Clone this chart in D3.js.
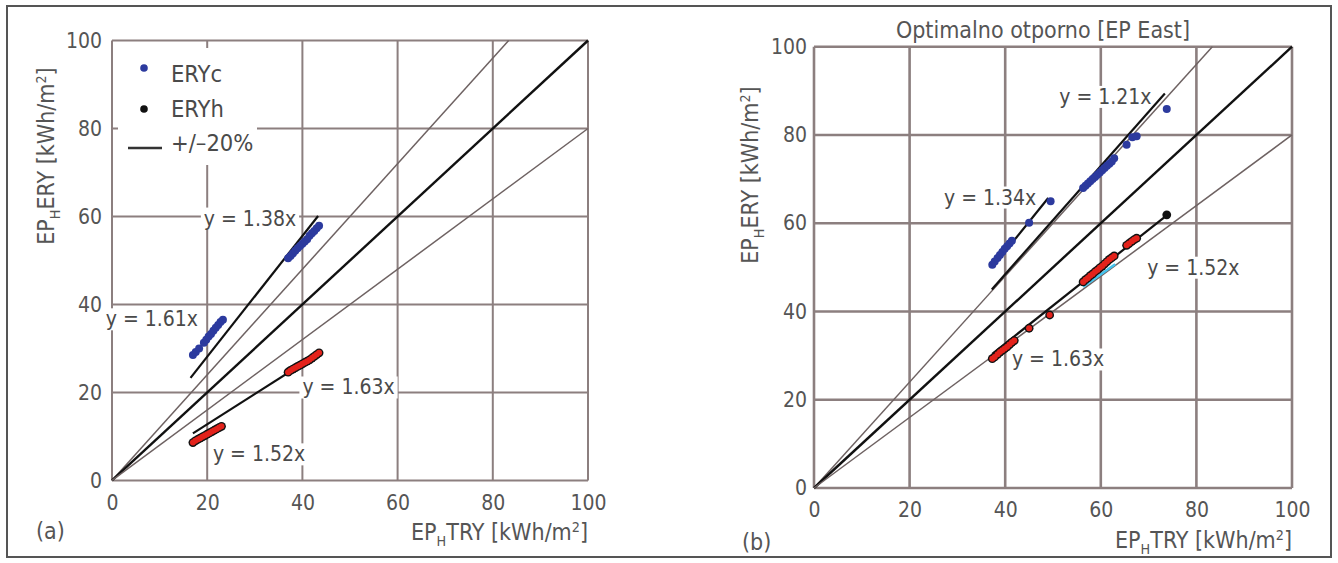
<!DOCTYPE html>
<html>
<head>
<meta charset="utf-8">
<script src="https://cdn.jsdelivr.net/npm/d3@7"></script>
<style>
  body { margin: 0; background: #fff; }
  svg { display: block; }
</style>
</head>
<body>
<svg id="chart" width="1338" height="563"></svg>
<script>
// tick values shared by both panels
const ticks = [0, 20, 40, 60, 80, 100];
// reference lines y = 1.2x, y = x, y = 0.8x
const refSlopes = [1.2, 1.0, 0.8];

// panel (a)
const eryCA = [[17, 28.5], [17.6, 29.2], [18.3, 30], [19.3, 31.3], [19.8, 32], [20.3, 32.7], [20.8, 33.3],
  [21.3, 34], [21.8, 34.7], [22.3, 35.3], [22.8, 36], [23.3, 36.5],
  [37, 50.5], [37.5, 51], [38, 51.6], [38.5, 52.2], [39, 52.8], [39.5, 53.3], [40, 53.8], [40.5, 54.3],
  [41, 54.8], [41.5, 55.6], [42, 56.2], [42.5, 56.7], [43, 57.3], [43.5, 57.9]];
const eryHA = [[17, 8.6], [17.5, 9], [18, 9.3], [18.5, 9.6], [19, 9.9], [19.5, 10.2], [20, 10.5], [20.5, 10.8],
  [21, 11.1], [21.5, 11.4], [22, 11.7], [22.5, 12], [23, 12.3],
  [37, 24.6], [37.5, 25], [38, 25.3], [38.5, 25.6], [39, 25.9], [39.5, 26.2], [40, 26.5], [40.5, 26.8],
  [41, 27.1], [41.5, 27.4], [42, 27.8], [42.5, 28.2], [43, 28.6], [43.5, 29]];
const eryHBlackA = [];
const fitsA = [[[16.5, 23.3], [43.3, 60.1]], [[17, 10.7], [43.3, 28.8]]];
const cyanA = [];
const labelsA = [
  { text: "y = 1.38x", x: 19.3, y: 59.6 },
  { text: "y = 1.61x", x: -1.3, y: 36.7 },
  { text: "y = 1.63x", x: 40.0, y: 21.2 },
  { text: "y = 1.52x", x: 21.2, y: 6.0 }
];

// panel (b)
const eryCB = [[37.3, 50.6], [37.8, 51.3], [38.4, 52.1], [38.9, 52.8], [39.4, 53.5], [39.9, 54.2], [40.4, 54.8],
  [40.9, 55.4], [41.4, 56], [45, 60.1], [49.5, 65],
  [56.3, 68], [56.8, 68.5], [57.3, 69], [57.8, 69.5], [58.3, 70], [58.8, 70.5], [59.3, 71], [59.8, 71.5],
  [60.3, 72], [60.8, 72.5], [61.3, 73], [61.8, 73.5], [62.3, 74], [62.8, 74.7],
  [65.4, 77.8], [66.6, 79.5], [67.5, 79.7], [73.8, 85.9]];
const eryHB = [[37.3, 29.3], [37.8, 29.7], [38.4, 30.3], [38.9, 30.8], [39.4, 31.2], [39.9, 31.6], [40.4, 32],
  [40.9, 32.5], [41.4, 33], [41.9, 33.4], [45, 36.2], [49.3, 39.2],
  [56.3, 46.7], [56.8, 47.2], [57.3, 47.6], [57.8, 48.1], [58.3, 48.5], [58.8, 49], [59.3, 49.4], [59.8, 49.9],
  [60.3, 50.3], [60.8, 50.8], [61.3, 51.3], [61.8, 51.8], [62.3, 52.2], [62.8, 52.6],
  [65.4, 55], [65.9, 55.4], [66.5, 55.9], [67, 56.3], [67.5, 56.6]];
const eryHBlackB = [[73.8, 61.9]];
const fitsB = [[[37.2, 45], [73.4, 89.4]], [[37.5, 50.3], [49, 65.7]], [[37.3, 30.4], [73.8, 61.8]]];
const cyanB = [[[56.3, 45.6], [63, 50.7]]];
const labelsB = [
  { text: "y = 1.21x", x: 51.3, y: 88.7 },
  { text: "y = 1.34x", x: 27.2, y: 65.9 },
  { text: "y = 1.52x", x: 69.7, y: 50.0 },
  { text: "y = 1.63x", x: 41.4, y: 29.2 }
];

const fontFam = "'DejaVu Sans Condensed','DejaVu Sans',sans-serif";
const gridColor = "#8c7f7f";
const textColor = "#4a4a4a";
const blue = "#2c3a9e";
const red = "#e3231c";

const svg = d3.select("#chart");

// outer frame
svg.append("rect")
  .attr("x", 7).attr("y", 6).attr("width", 1324).attr("height", 551)
  .attr("fill", "none").attr("stroke", "#555").attr("stroke-width", 2);

// text with subscript H and superscript 2
function axisText(sel, lead) {
  sel.append("tspan").text("EP");
  sel.append("tspan").text("H").attr("font-size", "62%").attr("dy", 6);
  sel.append("tspan").text(lead + " [kWh/m").attr("dy", -6);
  sel.append("tspan").text("2").attr("font-size", "62%").attr("dy", -8);
  sel.append("tspan").text("]").attr("dy", 8);
}

function drawPanel(cfg) {
  const x = d3.scaleLinear().domain([0, 100]).range([cfg.x0, cfg.x1]);
  const y = d3.scaleLinear().domain([0, 100]).range([cfg.y0, cfg.y1]);
  const g = svg.append("g");
  const line = d3.line().x(d => x(d[0])).y(d => y(d[1]));

  // grid + plot box
  g.selectAll(".gx").data(ticks).join("line")
    .attr("x1", d => x(d)).attr("x2", d => x(d)).attr("y1", y(0)).attr("y2", y(100))
    .attr("stroke", gridColor).attr("stroke-width", cfg.gridW);
  g.selectAll(".gy").data(ticks).join("line")
    .attr("y1", d => y(d)).attr("y2", d => y(d)).attr("x1", x(0)).attr("x2", x(100))
    .attr("stroke", gridColor).attr("stroke-width", cfg.gridW);

  // axes (labels only)
  const styleAxis = a => {
    a.select(".domain").remove();
    a.attr("font-family", fontFam).attr("font-size", 21);
    a.selectAll("text").attr("fill", "#555");
  };
  g.append("g").attr("transform", `translate(0,${y(0)})`)
    .call(d3.axisBottom(x).tickValues(ticks).tickSize(0).tickPadding(cfg.xPad))
    .call(styleAxis);
  g.append("g").attr("transform", `translate(${x(0)},0)`)
    .call(d3.axisLeft(y).tickValues(ticks).tickSize(0).tickPadding(cfg.yPad))
    .call(styleAxis);

  const bgG = g.append("g");

  // reference lines
  refSlopes.forEach(s => {
    const xe = Math.min(100, 100 / s);
    g.append("path").datum([[0, 0], [xe, xe * s]]).attr("d", line)
      .attr("fill", "none")
      .attr("stroke", s === 1 ? "#111" : "#6e6262")
      .attr("stroke-width", s === 1 ? 2.4 : 1.5);
  });

  cfg.cyan.forEach(seg => {
    g.append("path").datum(seg).attr("d", line)
      .attr("fill", "none").attr("stroke", "#45c4ee").attr("stroke-width", 2.5);
  });

  // fitted lines
  cfg.fits.forEach(seg => {
    g.append("path").datum(seg).attr("d", line)
      .attr("fill", "none").attr("stroke", "#111").attr("stroke-width", 2.2);
  });

  // ERYc points
  g.selectAll(".c").data(cfg.eryC).join("circle")
    .attr("cx", d => x(d[0])).attr("cy", d => y(d[1])).attr("r", 4)
    .attr("fill", blue);
  // ERYh points: black rim, red core
  g.selectAll(".hb").data(cfg.eryH.concat(cfg.eryHBlack)).join("circle")
    .attr("cx", d => x(d[0])).attr("cy", d => y(d[1])).attr("r", 4.4)
    .attr("fill", "#111");
  g.selectAll(".hr").data(cfg.eryH).join("circle")
    .attr("cx", d => x(d[0])).attr("cy", d => y(d[1])).attr("r", 3)
    .attr("fill", red);

  // equation labels with white knock-out boxes
  cfg.labels.forEach(l => {
    const t = g.append("text")
      .attr("x", x(l.x)).attr("y", y(l.y)).attr("dy", "0.35em")
      .attr("font-family", fontFam).attr("font-size", 21).attr("fill", textColor)
      .text(l.text);
    const b = t.node().getBBox();
    bgG.append("rect")
      .attr("x", b.x - 3).attr("y", b.y + 1).attr("width", b.width + 6).attr("height", b.height - 2)
      .attr("fill", "#fff");
  });

  // axis titles
  const xt = g.append("text")
    .attr("x", x(100)).attr("y", cfg.xTitleY).attr("dy", "0.35em").attr("text-anchor", "end")
    .attr("font-family", fontFam).attr("font-size", 23).attr("fill", "#555");
  axisText(xt, "TRY");
  const yt = g.append("text")
    .attr("transform", `translate(${cfg.yTitleX},${cfg.yTitleY}) rotate(-90)`)
    .attr("dy", "0.35em").attr("text-anchor", "middle")
    .attr("font-family", fontFam).attr("font-size", 23).attr("fill", "#555");
  axisText(yt, "ERY");

  g.append("text")
    .attr("x", cfg.tagX).attr("y", cfg.tagY).attr("dy", "0.35em")
    .attr("font-family", fontFam).attr("font-size", 23).attr("fill", "#555")
    .text(cfg.tag);

  return g;
}

const gA = drawPanel({
  x0: 112, x1: 588, y0: 480.4, y1: 40.5, gridW: 2, xPad: 15, yPad: 10,
  eryC: eryCA, eryH: eryHA, eryHBlack: eryHBlackA, fits: fitsA, cyan: cyanA, labels: labelsA,
  xTitleY: 532, yTitleX: 46, yTitleY: 156, tag: "(a)", tagX: 36, tagY: 531
});

// legend of panel (a)
const lg = gA.append("g");
lg.append("rect").attr("x", 118).attr("y", 48).attr("width", 139).attr("height", 117).attr("fill", "#fff");
lg.append("circle").attr("cx", 144).attr("cy", 68).attr("r", 3.8).attr("fill", blue);
lg.append("circle").attr("cx", 144).attr("cy", 109).attr("r", 3.8).attr("fill", "#111");
lg.append("line").attr("x1", 128).attr("x2", 162).attr("y1", 148).attr("y2", 148)
  .attr("stroke", "#333").attr("stroke-width", 2.5);
[["ERYc", 74], ["ERYh", 109], ["+/\u201320%", 143]].forEach(([t, yy]) => {
  lg.append("text").attr("x", 171).attr("y", yy).attr("dy", "0.35em")
    .attr("font-family", fontFam).attr("font-size", 23.5).attr("fill", textColor).text(t);
});

const gB = drawPanel({
  x0: 814, x1: 1292, y0: 488, y1: 46.7, gridW: 2.6, xPad: 14, yPad: 7,
  eryC: eryCB, eryH: eryHB, eryHBlack: eryHBlackB, fits: fitsB, cyan: cyanB, labels: labelsB,
  xTitleY: 540, yTitleX: 750, yTitleY: 175, tag: "(b)", tagX: 742, tagY: 542
});

gB.append("text")
  .attr("x", 1043).attr("y", 30).attr("dy", "0.35em").attr("text-anchor", "middle")
  .attr("font-family", fontFam).attr("font-size", 23).attr("fill", "#555")
  .text("Optimalno otporno [EP East]");
</script>
</body>
</html>
